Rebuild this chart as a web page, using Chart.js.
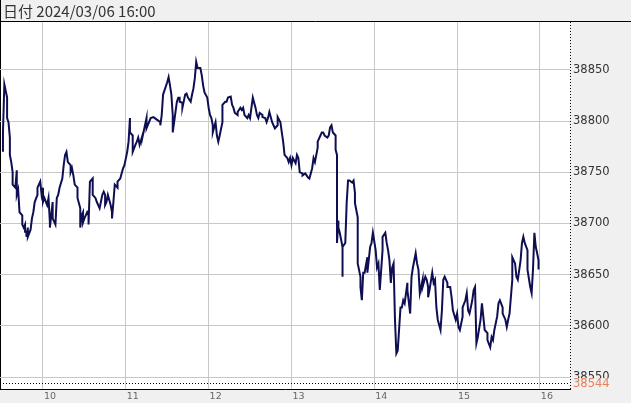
<!DOCTYPE html>
<html>
<head>
<meta charset="utf-8">
<script src="https://cdn.jsdelivr.net/npm/chart.js@4"></script>
<style>
  html, body { margin: 0; padding: 0; background: #f0f0f0; }
  canvas { display: block; }
</style>
</head>
<body>
<canvas id="chart" width="631" height="403"></canvas>
<script>
// minutes after 09:00 and price
const times = [
  31,31,32,34,34,35,36,36,37,38,38,40,41,41,42,43,45,45,46,47,47,48,48,49,49,51,52,53,54,56,
  56,58,59,60,60,61,63,64,65,65,67,67,69,70,71,72,74,75,76,77,78,80,80,81,82,83,85,85,87,87,
  88,89,89,90,92,93,93,94,96,96,96,98,99,100,101,103,104,105,105,106,107,109,110,110,111,112,114,114,116,117,
  118,119,121,122,123,123,125,125,125,127,128,129,130,132,132,135,135,138,140,143,145,145,146,147,150,151,152,153,154,154,
  156,157,158,159,159,161,161,163,164,165,167,168,169,170,171,172,174,175,176,177,179,180,181,182,183,183,185,186,187,188,
  190,190,192,193,194,196,197,198,199,201,201,203,204,205,206,208,209,210,211,212,214,215,216,217,219,219,221,222,223,224,
  226,227,228,230,230,232,233,234,235,237,238,239,240,241,243,244,245,246,248,248,250,251,252,253,255,256,257,259,259,261,
  262,263,264,266,267,268,269,270,272,272,273,273,273,274,274,275,277,277,277,277,279,280,281,282,284,285,286,286,288,288,
  288,290,290,291,292,293,295,295,297,298,299,301,302,303,304,306,306,308,309,310,311,312,313,314,315,316,317,319,320,321,
  322,324,324,326,327,328,330,331,332,333,335,335,337,338,339,339,340,342,343,344,345,346,348,349,350,351,353,353,355,356,
  357,359,360,361,362,364,364,366,367,368,369,371,372,373,374,375,377,378,379,380,382,382,384,385,386,387,389,390,391,393,
  393,395,396,397,398,400,400,402,403,404,406,407,408,409,411,411,413,414,415,416,417,418,419,419
];
const prices = [
  38770,38789,38836,38823,38803,38799,38784,38767,38760,38750,38738,38735,38752,38728,38733,38711,38708,38699,38696,38699,38692,38692,38687,38696,38687,38694,38705,38711,38721,38728,
  38735,38741,38728,38735,38721,38725,38718,38725,38701,38696,38721,38705,38699,38725,38728,38735,38744,38757,38767,38770,38760,38757,38750,38754,38747,38738,38735,38725,38715,38696,
  38708,38711,38701,38705,38711,38708,38699,38741,38744,38738,38728,38725,38721,38718,38715,38728,38731,38728,38718,38721,38728,38718,38711,38705,38721,38738,38735,38741,38744,38749,
  38754,38757,38770,38780,38803,38789,38786,38777,38770,38777,38780,38784,38777,38786,38784,38803,38793,38803,38804,38801,38799,38796,38806,38826,38838,38843,38835,38826,38806,38789,
  38809,38819,38823,38823,38819,38818,38813,38826,38827,38823,38819,38826,38832,38842,38858,38852,38852,38845,38835,38828,38823,38813,38806,38803,38796,38789,38799,38786,38780,38786,
  38799,38816,38819,38819,38823,38824,38816,38813,38808,38806,38809,38813,38811,38813,38806,38803,38806,38803,38813,38823,38813,38806,38803,38808,38806,38804,38803,38799,38803,38809,
  38799,38796,38793,38796,38804,38799,38789,38780,38767,38764,38760,38764,38757,38764,38759,38767,38764,38750,38749,38747,38749,38747,38745,38744,38754,38764,38760,38774,38780,38786,
  38789,38789,38786,38784,38786,38794,38796,38789,38786,38772,38767,38759,38681,38703,38696,38691,38677,38671,38648,38677,38681,38720,38742,38742,38740,38742,38730,38720,38706,38671,
  38661,38648,38638,38625,38652,38652,38667,38652,38677,38681,38691,38674,38657,38661,38635,38674,38687,38691,38681,38674,38664,38642,38657,38661,38606,38573,38576,38618,38618,38625,
  38622,38642,38635,38612,38648,38657,38671,38661,38655,38632,38645,38638,38648,38645,38638,38628,38635,38652,38642,38645,38618,38606,38596,38615,38645,38648,38642,38638,38638,38628,
  38615,38606,38612,38599,38596,38609,38618,38625,38632,38615,38612,38625,38635,38638,38583,38589,38606,38622,38609,38596,38593,38586,38579,38589,38586,38596,38609,38622,38625,38618,
  38612,38606,38599,38606,38612,38645,38667,38661,38648,38645,38664,38681,38687,38681,38674,38655,38638,38632,38655,38691,38677,38671,38664,38655
];

const xTickMinutes = [60, 120, 180, 240, 300, 360, 420];
const xTickLabels = ['10', '11', '12', '13', '14', '15', '16'];
const yTicks = [38550, 38600, 38650, 38700, 38750, 38800, 38850];
const markerValue = 38544;
const headerText = '日付 2024/03/06 16:00';

const xMin = 28.85, xMax = 441.8;
const yMin = 38538.3, yMax = 38896.9;

const frame = {
  id: 'frame',
  beforeDraw(chart) {
    const { ctx, chartArea: a } = chart;
    ctx.save();
    ctx.fillStyle = '#f0f0f0';
    ctx.fillRect(0, 0, chart.width, chart.height);
    ctx.fillStyle = '#ffffff';
    ctx.fillRect(a.left, a.top, a.right - a.left, a.bottom - a.top);
    // header
    ctx.fillStyle = '#333';
    ctx.font = "15px 'Noto Sans CJK JP'";
    ctx.textBaseline = 'middle';
    ctx.fillText(headerText, 3, 11);
    ctx.strokeStyle = '#000';
    ctx.lineWidth = 1;
    ctx.beginPath();
    ctx.moveTo(0, a.top - 0.5);
    ctx.lineTo(chart.width, a.top - 0.5);
    ctx.moveTo(0.5, 0);
    ctx.lineTo(0.5, a.bottom);
    ctx.stroke();
    ctx.restore();
  },
  afterDatasetsDraw(chart) {
    const { ctx, chartArea: a } = chart;
    const y = Math.round(chart.scales.y.getPixelForValue(markerValue)) + 0.5;
    ctx.save();
    ctx.strokeStyle = '#000';
    ctx.lineWidth = 1;
    ctx.setLineDash([1, 2]);
    ctx.beginPath();
    ctx.moveTo(a.left, y);
    ctx.lineTo(a.right, y);
    // dashed right edge of the plot
    ctx.moveTo(a.right + 0.5, a.top);
    ctx.lineTo(a.right + 0.5, a.bottom);
    ctx.stroke();
    ctx.restore();
  },
  afterDraw(chart) {
    const { ctx, chartArea: a } = chart;
    const y = chart.scales.y.getPixelForValue(markerValue);
    ctx.save();
    ctx.fillStyle = '#f0f0f0';
    ctx.fillRect(a.right + 2, y - 5, 57, 10);
    ctx.fillStyle = '#e8805a';
    ctx.font = "11.5px 'DejaVu Sans'";
    ctx.textBaseline = 'middle';
    ctx.fillText(String(markerValue), a.right + 3, y + 1);
    ctx.restore();
  }
};

new Chart(document.getElementById('chart'), {
  type: 'line',
  data: {
    datasets: [{
      data: times.map((t, i) => ({ x: t, y: prices[i] })),
      borderColor: '#0e0e52',
      borderWidth: 2,
      pointRadius: 0,
      tension: 0
    }]
  },
  options: {
    responsive: false,
    animation: false,
    devicePixelRatio: 1,
    layout: { padding: { top: 22, left: 0, right: 0, bottom: 0 } },
    plugins: { legend: { display: false }, tooltip: { enabled: false } },
    scales: {
      x: {
        type: 'linear',
        min: xMin,
        max: xMax,
        afterBuildTicks: s => { s.ticks = xTickMinutes.map(v => ({ value: v })); },
        afterFit: s => { s.height = 14; },
        grid: { color: '#c8c8c8', drawTicks: false },
        border: { color: '#000' },
        ticks: {
          autoSkip: false,
          maxRotation: 0,
          padding: 2,
          labelOffset: 7,
          color: '#666',
          font: { family: 'DejaVu Sans', size: 9.5 },
          callback: (v, i) => xTickLabels[i]
        }
      },
      y: {
        position: 'right',
        min: yMin,
        max: yMax,
        afterBuildTicks: s => { s.ticks = yTicks.map(v => ({ value: v })); },
        afterFit: s => { s.width = 61; },
        grid: { color: '#c8c8c8', drawTicks: false },
        border: { display: false },
        ticks: {
          crossAlign: 'near',
          padding: 3,
          color: '#333',
          font: { family: 'DejaVu Sans', size: 11.5 },
          callback: v => String(v)
        }
      }
    }
  },
  plugins: [frame]
});
</script>
</body>
</html>
